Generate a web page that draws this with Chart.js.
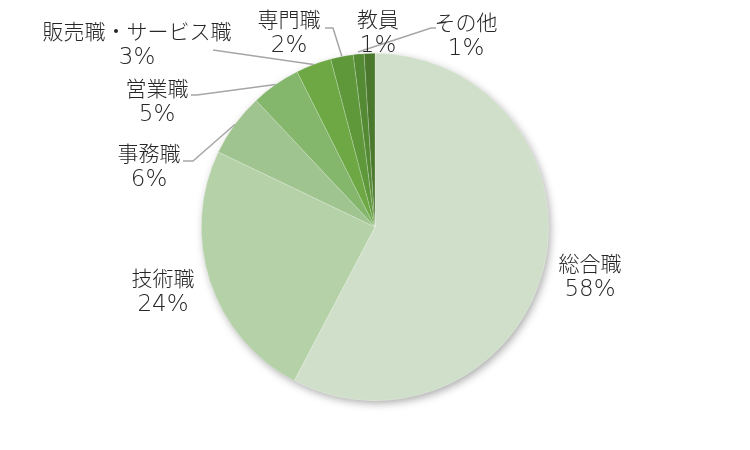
<!DOCTYPE html>
<html>
<head>
<meta charset="utf-8">
<script src="https://cdn.jsdelivr.net/npm/chart.js@4"></script>
<style>
  html, body { margin: 0; padding: 0; background: #ffffff; }
  #wrap { width: 750px; height: 450px; position: relative; }
</style>
</head>
<body>
<div id="wrap"><canvas id="c" width="750" height="450"></canvas></div>
<script>
// ---- data ----
const categories = ['総合職', '技術職', '事務職', '営業職', '販売職・サービス職', '専門職', '教員', 'その他'];
const shares = [57.7, 24.4, 5.9, 4.6, 3.3, 2.1, 1.0, 1.0];

// ---- styles / layout (kept separate from the data) ----
const sliceColors = ['#d0dfc9', '#b5d1a8', '#a0c48f', '#84b66c', '#6da845', '#5e983a', '#548a34', '#4a792d'];
const labelLayout = [
  { x: 590, y: 263 },
  { x: 163, y: 278 },
  { x: 149, y: 153, line: [[183, 161], [193, 161]] },
  { x: 157, y: 88,  line: [[191, 95], [197, 95]] },
  { x: 137, y: 31,  line: [[213, 50]] },
  { x: 289, y: 19,  line: [[325, 28], [333, 28]] },
  { x: 378, y: 19 },
  { x: 466, y: 22,  line: [[436, 28], [431, 28], [358, 52]], explicitEnd: true }
];
const NAME_FONT = '300 21px "Noto Sans CJK JP", "Noto Sans", sans-serif';
const PCT_FONT = '200 23px "DejaVu Sans", "Noto Sans", sans-serif';
const LINE_GAP = 26;

const shadowPlugin = {
  id: 'pieShadow',
  beforeDatasetsDraw(chart) {
    const meta = chart.getDatasetMeta(0);
    const arc = meta.data[0];
    if (!arc) return;
    const { x, y, outerRadius } = arc.getProps(['x', 'y', 'outerRadius'], true);
    const ctx = chart.ctx;
    ctx.save();
    ctx.shadowColor = 'rgba(0,0,0,0.35)';
    ctx.shadowBlur = 9;
    ctx.shadowOffsetX = 2;
    ctx.shadowOffsetY = 3;
    ctx.fillStyle = '#ffffff';
    ctx.beginPath();
    ctx.arc(x, y, outerRadius - 0.5, 0, Math.PI * 2);
    ctx.fill();
    ctx.restore();
  }
};

const labelPlugin = {
  id: 'pieLabels',
  afterDatasetsDraw(chart) {
    const ctx = chart.ctx;
    const meta = chart.getDatasetMeta(0);
    const total = shares.reduce((a, b) => a + b, 0);
    ctx.save();
    // leader lines
    ctx.strokeStyle = '#a6a6a6';
    ctx.lineWidth = 1.5;
    meta.data.forEach((arc, i) => {
      const lay = labelLayout[i];
      if (!lay.line) return;
      const p = arc.getProps(['x', 'y', 'startAngle', 'endAngle', 'outerRadius'], true);
      const mid = (p.startAngle + p.endAngle) / 2;
      const pts = lay.line.slice();
      if (!lay.explicitEnd) {
        pts.push([p.x + Math.cos(mid) * p.outerRadius, p.y + Math.sin(mid) * p.outerRadius]);
      }
      ctx.beginPath();
      ctx.moveTo(pts[0][0], pts[0][1]);
      for (let k = 1; k < pts.length; k++) ctx.lineTo(pts[k][0], pts[k][1]);
      ctx.stroke();
    });
    // texts
    ctx.fillStyle = '#262626';
    ctx.textAlign = 'center';
    ctx.textBaseline = 'middle';
    meta.data.forEach((arc, i) => {
      const lay = labelLayout[i];
      const pct = Math.round(shares[i] / total * 100) + '%';
      ctx.font = NAME_FONT;
      ctx.fillText(categories[i], lay.x, lay.y);
      ctx.font = PCT_FONT;
      ctx.fillText(pct, lay.x, lay.y + LINE_GAP + 1);
    });
    ctx.restore();
  }
};

new Chart(document.getElementById('c'), {
  type: 'pie',
  data: {
    labels: categories,
    datasets: [{
      data: shares,
      backgroundColor: sliceColors,
      borderColor: 'rgba(255,255,255,0.35)',
      borderWidth: 0.6
    }]
  },
  options: {
    responsive: false,
    animation: false,
    rotation: 0,
    layout: { padding: { top: 53, bottom: 49, left: 0, right: 0 } },
    plugins: {
      legend: { display: false },
      tooltip: { enabled: false }
    }
  },
  plugins: [shadowPlugin, labelPlugin]
});
</script>
</body>
</html>
